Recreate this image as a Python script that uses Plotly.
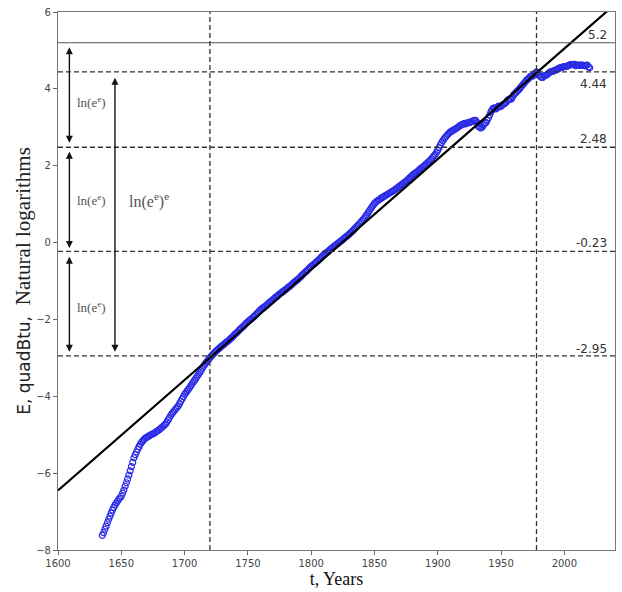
import plotly.graph_objects as go

# ---------------- data ----------------
years = list(range(1635, 2021))
energy_ln = [
    -7.62, -7.55, -7.46, -7.38, -7.29,
    -7.20, -7.12, -7.04, -6.96, -6.89, -6.83, -6.78, -6.73, -6.68, -6.64,
    -6.60, -6.52, -6.44, -6.34, -6.25, -6.15, -6.05, -5.94, -5.83, -5.72,
    -5.60, -5.52, -5.45, -5.38, -5.31, -5.25, -5.20, -5.16, -5.12, -5.09,
    -5.07, -5.05, -5.03, -5.01, -4.99, -4.98, -4.96, -4.94, -4.91, -4.89,
    -4.87, -4.84, -4.81, -4.78, -4.75, -4.72, -4.67, -4.61, -4.56, -4.50,
    -4.45, -4.41, -4.37, -4.33, -4.29, -4.25, -4.19, -4.13, -4.07, -4.01,
    -3.95, -3.91, -3.86, -3.82, -3.77, -3.72, -3.67, -3.62, -3.58, -3.53,
    -3.48, -3.43, -3.38, -3.33, -3.27, -3.22, -3.17, -3.12, -3.08, -3.04,
    -3.00, -2.96, -2.92, -2.89, -2.85, -2.82, -2.79, -2.76, -2.73, -2.70,
    -2.68, -2.65, -2.62, -2.59, -2.57, -2.54, -2.51, -2.48, -2.45, -2.41,
    -2.38, -2.35, -2.32, -2.28, -2.25, -2.22, -2.19, -2.16, -2.12, -2.09,
    -2.06, -2.03, -2.00, -1.98, -1.95, -1.92, -1.89, -1.85, -1.82, -1.78,
    -1.75, -1.72, -1.70, -1.67, -1.65, -1.62, -1.59, -1.56, -1.53, -1.51,
    -1.48, -1.45, -1.42, -1.40, -1.37, -1.34, -1.32, -1.29, -1.27, -1.24,
    -1.22, -1.19, -1.16, -1.14, -1.11, -1.08, -1.05, -1.02, -1.00, -0.97,
    -0.94, -0.91, -0.88, -0.84, -0.81, -0.78, -0.75, -0.72, -0.68, -0.65,
    -0.62, -0.59, -0.57, -0.54, -0.51, -0.48, -0.45, -0.42, -0.38, -0.35,
    -0.32, -0.29, -0.26, -0.24, -0.21, -0.18, -0.15, -0.13, -0.10, -0.08,
    -0.05, -0.02, 0.00, 0.03, 0.05, 0.08, 0.11, 0.14, 0.16, 0.19,
    0.22, 0.25, 0.28, 0.31, 0.35, 0.38, 0.42, 0.45, 0.49, 0.52,
    0.56, 0.60, 0.64, 0.69, 0.73, 0.78, 0.83, 0.88, 0.93, 0.97,
    1.02, 1.05, 1.08, 1.10, 1.12, 1.15, 1.17, 1.19, 1.21, 1.23,
    1.25, 1.27, 1.29, 1.31, 1.33, 1.35, 1.37, 1.40, 1.42, 1.45,
    1.47, 1.50, 1.52, 1.55, 1.57, 1.60, 1.63, 1.66, 1.69, 1.72,
    1.75, 1.78, 1.80, 1.83, 1.85, 1.88, 1.91, 1.94, 1.96, 1.99,
    2.02, 2.05, 2.08, 2.11, 2.14, 2.18, 2.22, 2.26, 2.30, 2.35,
    2.40, 2.47, 2.54, 2.60, 2.65, 2.70, 2.74, 2.78, 2.82, 2.85,
    2.88, 2.90, 2.92, 2.94, 2.96, 2.98, 3.00, 3.03, 3.05, 3.07,
    3.08, 3.10, 3.09, 3.11, 3.12, 3.12, 3.14, 3.15, 3.17, 3.18,
    3.18, 3.12, 3.03, 3.00, 2.98, 3.00, 3.05, 3.10, 3.12, 3.18,
    3.25, 3.32, 3.40, 3.46, 3.50, 3.50, 3.48, 3.52, 3.55, 3.53,
    3.55, 3.58, 3.60, 3.62, 3.65, 3.70, 3.72, 3.74, 3.73, 3.78,
    3.85, 3.88, 3.91, 3.95, 3.98, 4.02, 4.06, 4.10, 4.14, 4.18,
    4.22, 4.25, 4.28, 4.32, 4.34, 4.33, 4.37, 4.41, 4.44, 4.42,
    4.36, 4.32, 4.30, 4.30, 4.34, 4.35, 4.36, 4.39, 4.42, 4.44,
    4.45, 4.46, 4.47, 4.49, 4.50, 4.52, 4.54, 4.55, 4.56, 4.57,
    4.58, 4.58, 4.59, 4.60, 4.62, 4.63, 4.63, 4.64, 4.64, 4.60,
    4.62, 4.62, 4.61, 4.62, 4.62, 4.61, 4.60, 4.61, 4.62, 4.57,
    4.55,
]
assert len(years) == len(energy_ln)

trend_x = [1600, 2040]
trend_y = [-6.45, 6.20]

solid_level = 5.2
dashed_levels = [4.44, 2.48, -0.23, -2.95]
level_labels = ["5.2", "4.44", "2.48", "-0.23", "-2.95"]
vertical_years = [1720, 1978]

x_ticks = [1600, 1650, 1700, 1750, 1800, 1850, 1900, 1950, 2000]
y_ticks = [-8, -6, -4, -2, 0, 2, 4, 6]

# arrow segments: (x, y_from, y_to)
short_arrows = [(1609, 5.12, 2.60), (1609, 2.40, -0.14), (1609, -0.33, -2.84)]
long_arrow = (1645, 4.33, -2.84)
short_label_pos = [(1626.5, 3.65), (1626.5, 1.10), (1626.5, -1.67)]
long_label_pos = (1672, 1.10)

# ---------------- figure ----------------
fig = go.Figure()

fig.add_trace(go.Scatter(
    x=years, y=energy_ln, mode="markers",
    marker=dict(symbol="circle-open", size=6, color="#2a2ae6",
                line=dict(width=1.2, color="#2a2ae6")),
    showlegend=False, hoverinfo="skip"))

fig.add_trace(go.Scatter(
    x=trend_x, y=trend_y, mode="lines",
    line=dict(color="black", width=2.2),
    showlegend=False, hoverinfo="skip"))

shapes = []
shapes.append(dict(type="line", xref="paper", x0=0, x1=1, yref="y",
                   y0=solid_level, y1=solid_level,
                   line=dict(color="#555555", width=1.2)))
for lv in dashed_levels:
    shapes.append(dict(type="line", xref="paper", x0=0, x1=1, yref="y",
                       y0=lv, y1=lv,
                       line=dict(color="#333333", width=1.3, dash="5px,3px")))
for vx in vertical_years:
    shapes.append(dict(type="line", xref="x", x0=vx, x1=vx, yref="paper",
                       y0=0, y1=1,
                       line=dict(color="#333333", width=1.3, dash="5px,3px")))

annotations = []
label_levels = [solid_level] + dashed_levels
label_shifts = [8, -12, 8, 8, 7]
for txt, lv, sh in zip(level_labels, label_levels, label_shifts):
    annotations.append(dict(x=0.99, xref="paper", y=lv, yref="y", text=txt,
                            showarrow=False, xanchor="right", yanchor="middle",
                            yshift=sh,
                            font=dict(family="DejaVu Sans", size=12, color="#333333")))

for (ax_x, y0, y1) in short_arrows + [long_arrow]:
    annotations.append(dict(x=ax_x, y=y1, xref="x", yref="y",
                            ax=ax_x, ay=y0, axref="x", ayref="y",
                            text="", showarrow=True, arrowhead=2, startarrowhead=2,
                            arrowside="end+start", arrowsize=1.0, startarrowsize=1.0,
                            arrowwidth=1.4, arrowcolor="#111111"))

for (lx, ly) in short_label_pos:
    annotations.append(dict(x=lx, y=ly, xref="x", yref="y",
                            text="ln(e<sup>e</sup>)", showarrow=False,
                            font=dict(family="Liberation Serif", size=13, color="#555555")))
annotations.append(dict(x=long_label_pos[0], y=long_label_pos[1], xref="x", yref="y",
                        text="ln(e<sup>e</sup>)<sup>e</sup>", showarrow=False,
                        font=dict(family="Liberation Serif", size=16, color="#555555")))

fig.update_layout(
    width=622, height=592,
    margin=dict(l=58, r=6, t=9, b=40),
    paper_bgcolor="white", plot_bgcolor="white",
    shapes=shapes, annotations=annotations,
    xaxis=dict(range=[1600, 2040], tickvals=x_ticks, ticks="outside", ticklen=4,
               tickcolor="#666666", showgrid=False, zeroline=False,
               showline=True, linecolor="#777777", linewidth=1.2, mirror=True,
               tickfont=dict(family="DejaVu Sans", size=10, color="#444444"),
               title=dict(text="t, Years", standoff=4,
                          font=dict(family="Liberation Serif", size=18, color="#111111"))),
    yaxis=dict(range=[-8, 6], tickvals=y_ticks, ticks="outside", ticklen=4,
               tickcolor="#666666", showgrid=False, zeroline=False,
               showline=True, linecolor="#777777", linewidth=1.2, mirror=True,
               tickfont=dict(family="DejaVu Sans", size=10, color="#444444"),
               title=dict(text="E, quadBtu,  <span style=\"font-family:'Liberation Serif';font-size:21px\">Natural logarithms</span>",
                          standoff=1,
                          font=dict(family="DejaVu Sans", size=17, color="#222222"))),
)

fig.write_html("out.html")
